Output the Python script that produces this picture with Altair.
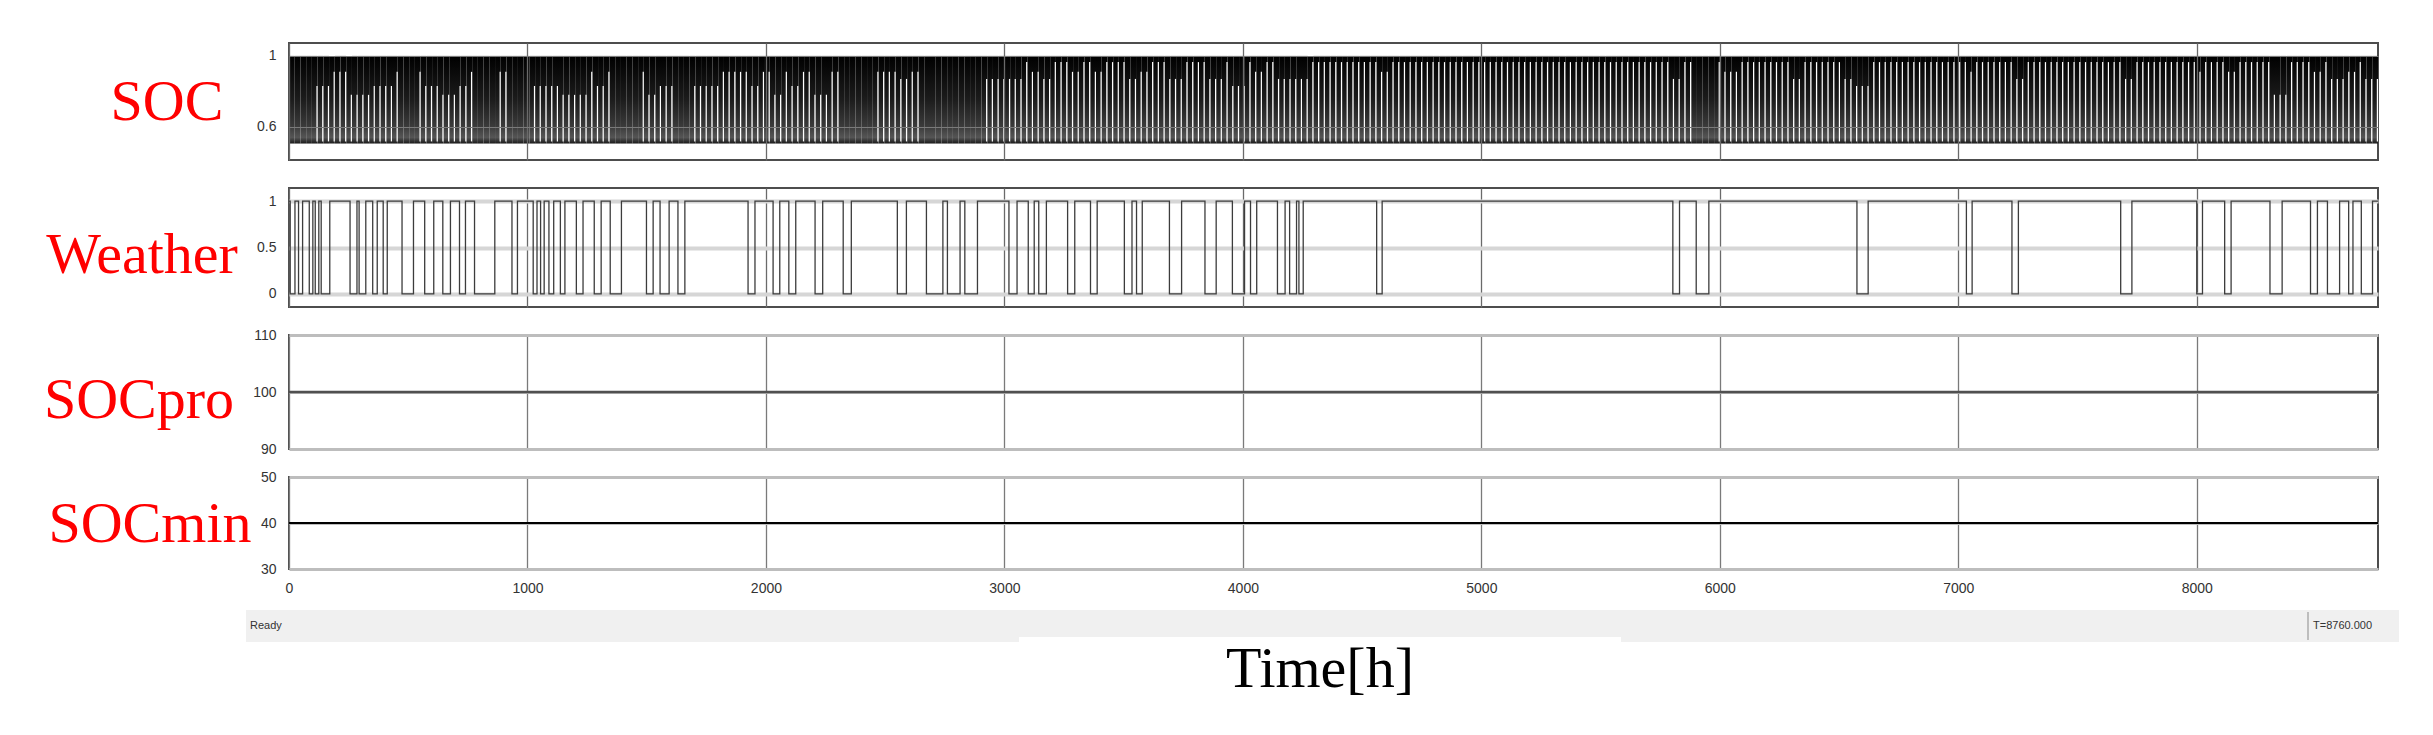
import altair as alt
import pandas as pd

# ---------------- values ----------------
HOURS_END = 8760
x_tick_values = [0, 1000, 2000, 3000, 4000, 5000, 6000, 7000, 8000]

# SOC: the battery swings every day between a floor (~0.505) and 1.
# One code per day (365 days) gives how high the white "full-charge" gap reaches
# (D = no gap: dense cycling during cloudy days).
soc_floor = 0.505
soc_top = 1.0
soc_full_hours = 5
soc_day_codes = (
    "DDDDbbbddd" "aaaabbbbdD" "DDdbbbaaab" "bdDDDDddDD" "DDbbbbbaaa" "aadbbdDDDD" "DdaabbbDDD" "bbb"
    "bbdddddbbd" "daadbbddaa" "addDDDDDDd" "dddccddDDD" "DDDDDDDDcc" "ccccceddcc" "eeeddeedde" "eee"
    "ccddeeeccc" "eeeecccebb" "beddeecccc" "cceeeeeeee" "eeeeddeeee" "eeeeeeeeee" "eeeeeeeeee" "eee"
    "eeeeeeeeee" "eeeeeeeeee" "eecceeDDDD" "edddeeeeee" "eeecceeeee" "eeccbbbeee" "eeeeeeeeee" "eee"
    "edeeeeeeec" "ceeeeeeeee" "eeeeeeeecc" "eeeeeeeeee" "edeeeeddee" "eeeeaaaeee" "eddecccdde" "ccc"
)
soc_gap_levels = {"a": 0.78, "b": 0.83, "c": 0.87, "d": 0.91, "e": 0.965}

# Weather: 1 = sunny, 0 = cloudy; cloudy intervals [start, end] in hours
weather_dip_start = [5, 40, 85, 110, 135, 256, 294, 351, 395, 474, 569, 645, 715, 778, 935,
                     1024, 1055, 1090, 1138, 1205, 1280, 1347, 1499, 1556, 1631, 1925, 2030,
                     2096, 2206, 2324, 2551, 2673, 2761, 2834, 3019, 3100, 3144, 3265, 3361,
                     3503, 3554, 3692, 3841, 3956, 4032, 4145, 4196, 4235, 4561, 5803, 5901,
                     6575, 7034, 7225, 7681, 8000, 8117, 8307, 8477, 8548, 8637, 8690]
weather_dip_end = [25, 57, 100, 125, 171, 285, 322, 370, 412, 522, 607, 677, 740, 863, 958,
                   1040, 1070, 1110, 1157, 1233, 1309, 1394, 1527, 1594, 1660, 1954, 2058,
                   2125, 2238, 2358, 2589, 2742, 2814, 2887, 3053, 3125, 3176, 3295, 3389,
                   3535, 3578, 3743, 3888, 4007, 4058, 4177, 4225, 4253, 4584, 5831, 5954,
                   6622, 7058, 7252, 7728, 8024, 8144, 8358, 8506, 8599, 8655, 8737]

socpro_time = [0, 8760]
socpro_value = [100, 100]
socmin_time = [0, 8760]
socmin_value = [40, 40]

panel_labels = ["SOC", "Weather", "SOCpro", "SOCmin"]

# ---------------- tables ----------------
soc_rows, gap_rows = [], []
for day, code in enumerate(soc_day_codes):
    t0 = day * 24
    soc_rows.append({"t0": t0, "t1": t0 + 24, "lo": soc_floor, "hi": soc_top})
    if code in soc_gap_levels:
        gap_rows.append({"g0": t0 + 24 - soc_full_hours, "g1": t0 + 24,
                         "glo": soc_floor + 0.012, "ghi": soc_gap_levels[code]})
soc_df = pd.DataFrame(soc_rows)
gap_df = pd.DataFrame(gap_rows)

w_rows = [{"t": 0, "v": 1}]
for s, e in zip(weather_dip_start, weather_dip_end):
    w_rows += [{"t": s, "v": 1}, {"t": s, "v": 0}, {"t": e, "v": 0}, {"t": e, "v": 1}]
w_rows.append({"t": HOURS_END, "v": 1})
w_df = pd.DataFrame(w_rows)
w_df["i"] = range(len(w_df))

pro_df = pd.DataFrame({"t": socpro_time, "v": socpro_value})
min_df = pd.DataFrame({"t": socmin_time, "v": socmin_value})

# ---------------- styling ----------------
W = 2089
H = [117, 119, 114, 92]
LABEL_FONT = "Liberation Sans"
SERIF = "Liberation Serif"

x_scale = alt.Scale(domain=[0, HOURS_END], nice=False, zero=False)


def x_axis(show_labels, zindex=0, grid_color="#6a6a6a"):
    kw = dict(values=x_tick_values, ticks=False, domain=False, title=None, grid=True,
              gridColor=grid_color, gridWidth=1.3, zindex=zindex)
    if show_labels:
        kw.update(labels=True, format="d", labelFont=LABEL_FONT, labelFontSize=14,
                  labelColor="#333333", labelPadding=12, labelFlush=False)
    else:
        kw.update(labels=False)
    return alt.Axis(**kw)


def y_axis(values, grid_color, grid_width=1.2, zindex=0):
    return alt.Axis(values=values, format="~g", ticks=False, domain=False, title=None,
                    grid=True, gridColor=grid_color, gridWidth=grid_width,
                    labelFont=LABEL_FONT, labelFontSize=14, labelColor="#333333",
                    labelPadding=13, zindex=zindex)


def red_label(text, x, y):
    return alt.Chart(pd.DataFrame({"label": [text]})).mark_text(
        font=SERIF, fontSize=58, color="#ff0000", align="center", baseline="alphabetic"
    ).encode(x=alt.value(x), y=alt.value(y), text="label:N")


soc_gradient = alt.LinearGradient(
    gradient="linear", x1=0, x2=0, y1=0, y2=1,
    stops=[alt.GradientStop(offset=0, color="#000000"),
           alt.GradientStop(offset=0.5, color="#1c1c1c"),
           alt.GradientStop(offset=0.8, color="#3a3a3a"),
           alt.GradientStop(offset=0.93, color="#555555"),
           alt.GradientStop(offset=1, color="#1a1a1a")])

# ---------------- panels ----------------
soc_bars = alt.Chart(soc_df).mark_rect(fill=soc_gradient, strokeWidth=0).encode(
    x=alt.X("t0:Q", scale=x_scale, axis=x_axis(False, zindex=1)),
    x2="t1:Q",
    y=alt.Y("lo:Q", scale=alt.Scale(domain=[0.412, 1.073], nice=False, zero=False),
            axis=y_axis([0.6, 1], "#7a7a7a", 1.2, zindex=1)),
    y2="hi:Q",
)
soc_gaps = alt.Chart(gap_df).mark_rect(fill="#ffffff", strokeWidth=0).encode(
    x="g0:Q", x2="g1:Q", y="glo:Q", y2="ghi:Q")
soc_panel = alt.layer(soc_bars, soc_gaps, red_label(panel_labels[0], -122, 77)).properties(
    width=W, height=H[0])

weather_line = alt.Chart(w_df).mark_line(color="#3c3c3c", strokeWidth=1.3).encode(
    x=alt.X("t:Q", scale=x_scale, axis=x_axis(False)),
    y=alt.Y("v:Q", scale=alt.Scale(domain=[-0.141, 1.141], nice=False, zero=False),
            axis=y_axis([0, 0.5, 1], "#d6d6d6", 4)),
    order="i:Q",
)
weather_panel = alt.layer(weather_line, red_label(panel_labels[1], -147, 85)).properties(
    width=W, height=H[1])

pro_line = alt.Chart(pro_df).mark_line(color="#505050", strokeWidth=2.5).encode(
    x=alt.X("t:Q", scale=x_scale, axis=x_axis(False, grid_color="#7a7a7a")),
    y=alt.Y("v:Q", scale=alt.Scale(domain=[90, 110], nice=False, zero=False),
            axis=y_axis([90, 100, 110], "#bdbdbd", 3)),
)
pro_panel = alt.layer(pro_line, red_label(panel_labels[2], -150, 83)).properties(
    width=W, height=H[2])

# status bar and time title below the last panel
one = pd.DataFrame({"k": [0]})
status_bar = alt.Chart(one).mark_rect(fill="#f0f0f0").encode(
    x=alt.value(-43), x2=alt.value(2110), y=alt.value(133), y2=alt.value(165))
status_cut = alt.Chart(one).mark_rect(fill="#ffffff").encode(
    x=alt.value(730), x2=alt.value(1332), y=alt.value(160), y2=alt.value(166))
status_sep = alt.Chart(one).mark_rule(color="#8a8a8a", strokeWidth=1).encode(
    x=alt.value(2019), y=alt.value(135), y2=alt.value(163))
ready_txt = alt.Chart(pd.DataFrame({"s": ["Ready"]})).mark_text(
    font=LABEL_FONT, fontSize=11, color="#333333", align="left", baseline="middle"
).encode(x=alt.value(-39), y=alt.value(149), text="s:N")
t_txt = alt.Chart(pd.DataFrame({"s": ["T=8760.000"]})).mark_text(
    font=LABEL_FONT, fontSize=11, color="#333333", align="left", baseline="middle"
).encode(x=alt.value(2024), y=alt.value(149), text="s:N")
time_title = alt.Chart(pd.DataFrame({"s": ["Time[h]"]})).mark_text(
    font=SERIF, fontSize=58, color="#000000", align="center", baseline="alphabetic"
).encode(x=alt.value(1031), y=alt.value(210), text="s:N")

min_line = alt.Chart(min_df).mark_line(color="#000000", strokeWidth=2).encode(
    x=alt.X("t:Q", scale=x_scale, axis=x_axis(True, grid_color="#7a7a7a")),
    y=alt.Y("v:Q", scale=alt.Scale(domain=[30, 50], nice=False, zero=False),
            axis=y_axis([30, 40, 50], "#bdbdbd", 3)),
)
min_panel = alt.layer(min_line, red_label(panel_labels[3], -139, 65),
                      status_bar, status_cut, status_sep, ready_txt, t_txt, time_title
                      ).properties(width=W, height=H[3])

chart = alt.vconcat(soc_panel, weather_panel, pro_panel, min_panel, spacing=28,
                    bounds="flush").properties(
    padding={"left": 34, "top": 34, "right": 5, "bottom": 5},
    background="#ffffff",
).configure_view(stroke="#4d4d4d", strokeWidth=2)

chart.save("out.html", embed_options={"renderer": "svg", "actions": False})
